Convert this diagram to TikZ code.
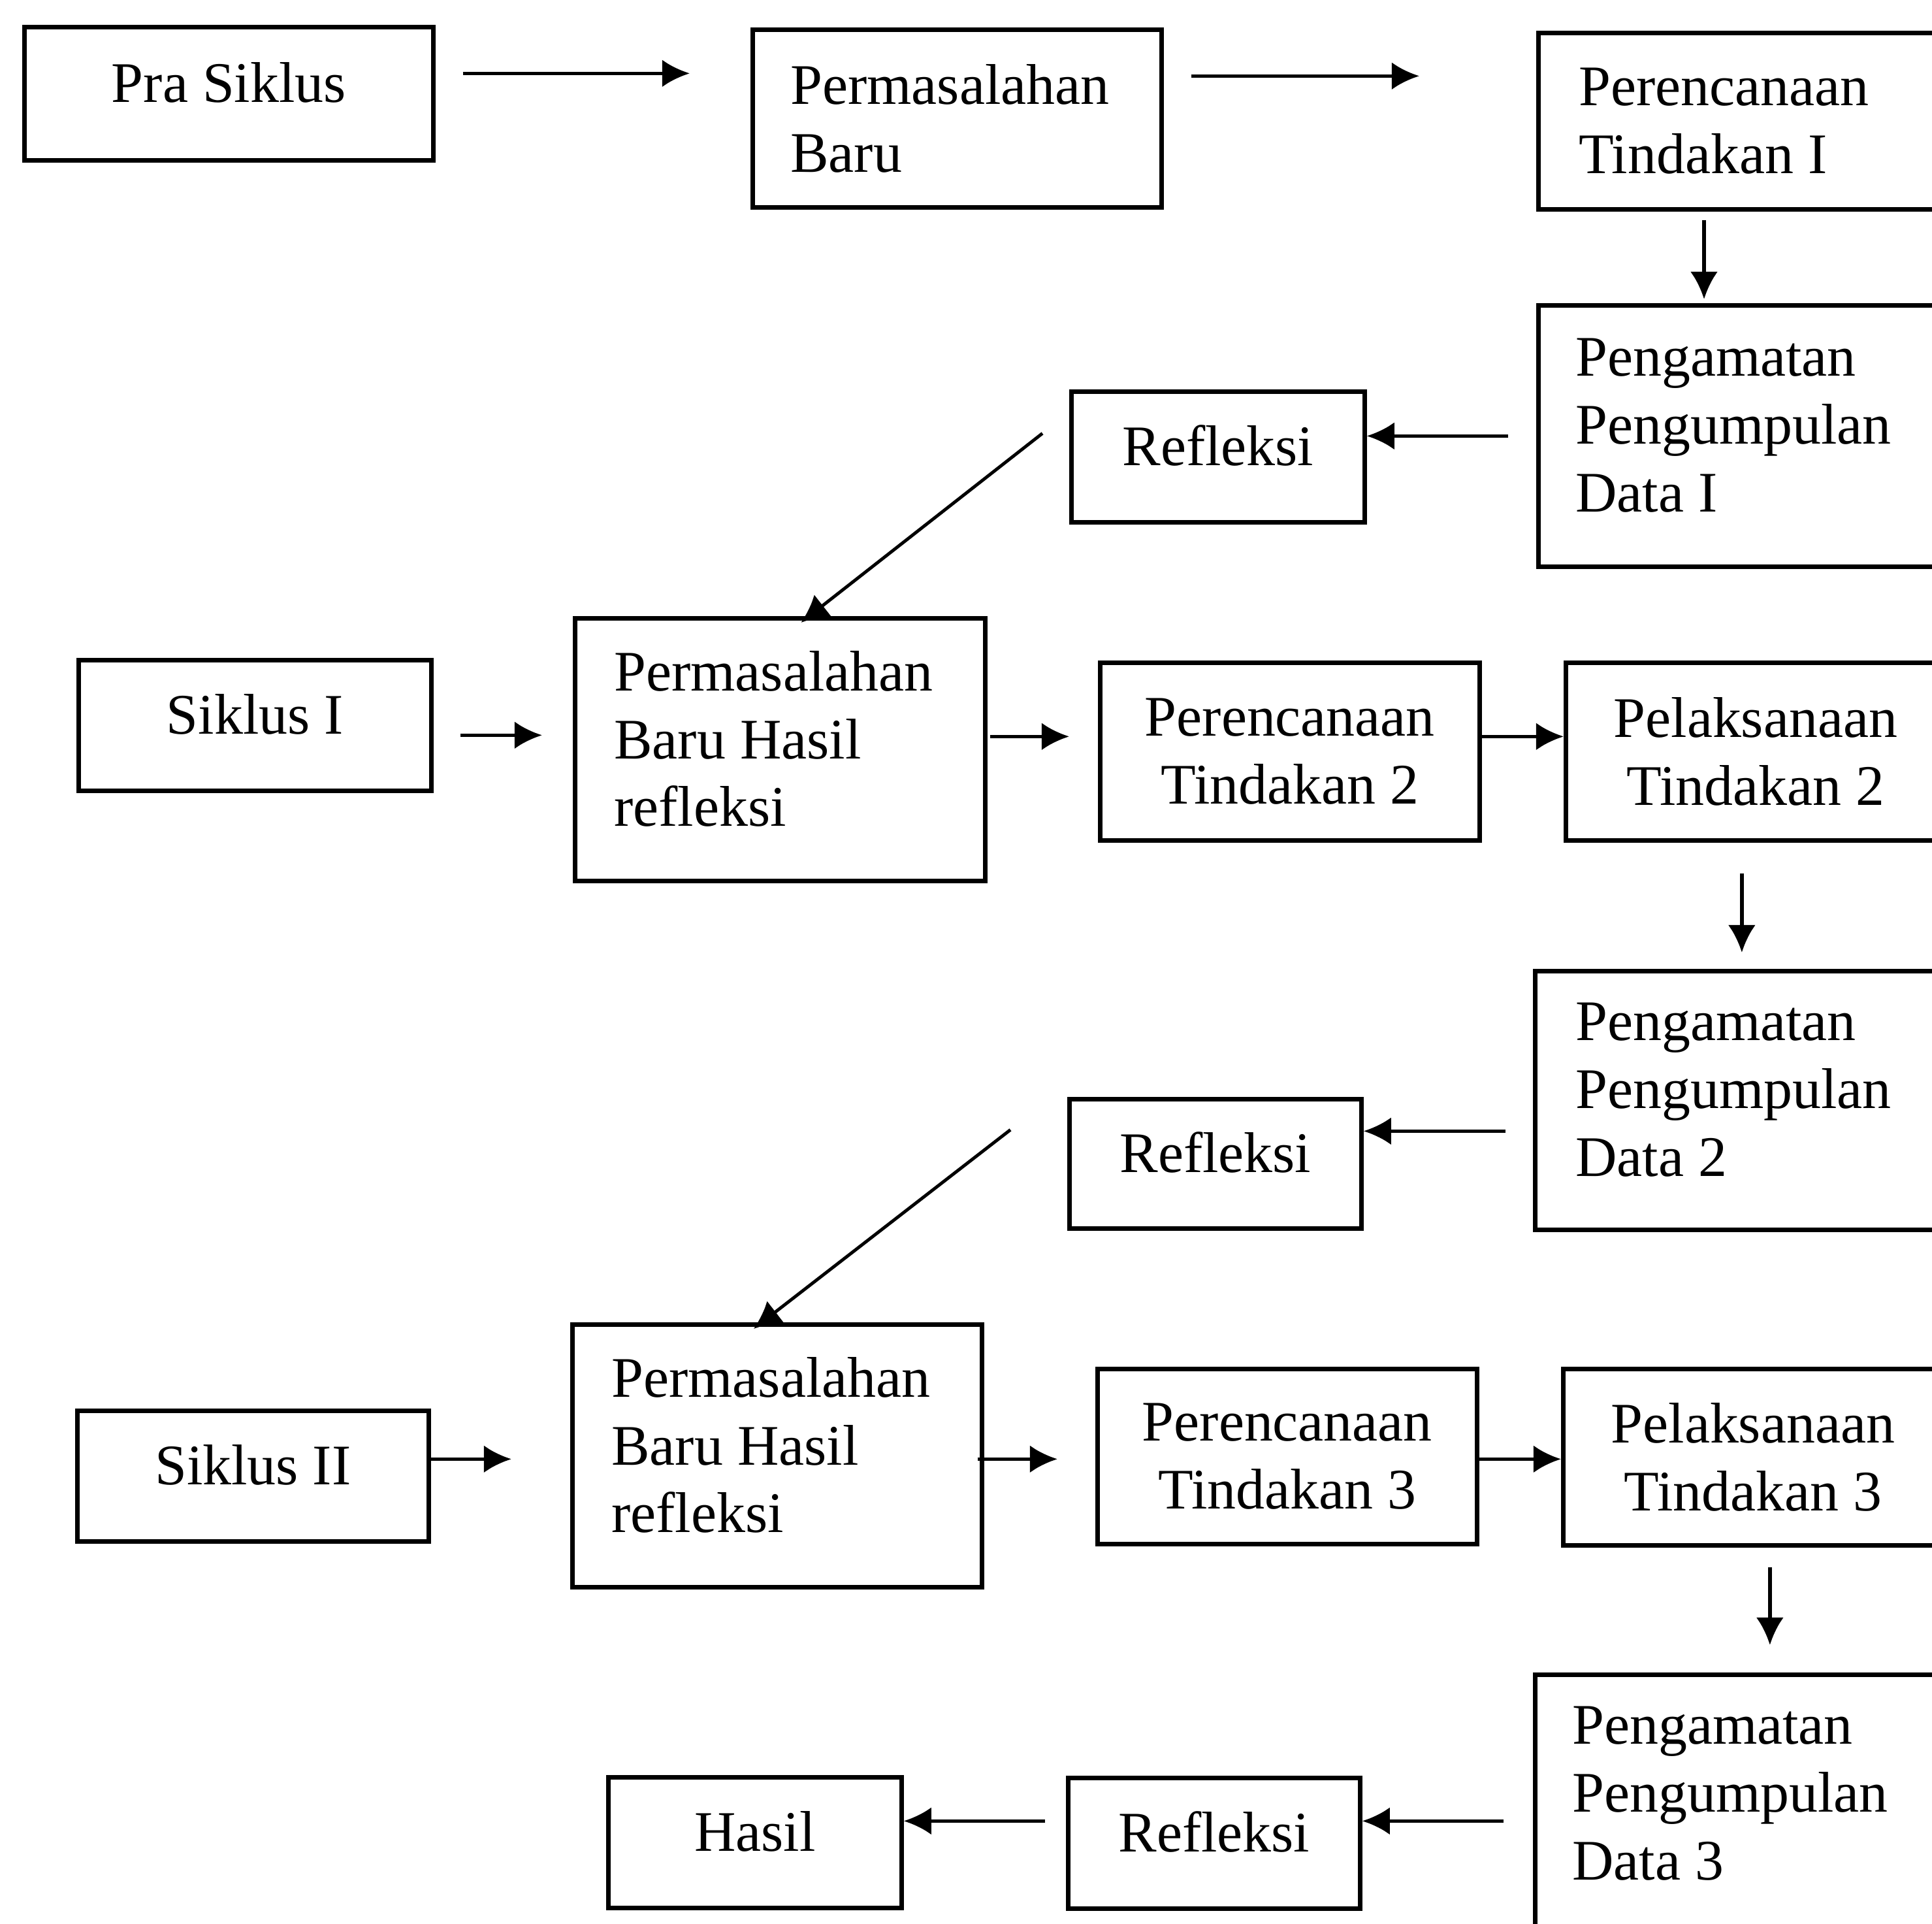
\documentclass[tikz,border=0pt]{standalone}
\usepackage{fontspec}
\setmainfont{Liberation Serif}
\usetikzlibrary{arrows.meta,calc}

\begin{document}
\begin{tikzpicture}[>={Latex[length=12pt,width=12pt]},
  every node/.style={font=\fontsize{25}{29.5}\selectfont},
  box/.style={draw,line width=1.9pt,anchor=north west,inner sep=0pt},
  lbox/.style={box,align=flush left},
  cbox/.style={box,align=flush center},
  lift/.style={text depth=10pt},
  liftthree/.style={text depth=68.5pt},
  arr/.style={->,line width=1.6pt}]
\useasboundingbox (0,0) rectangle (29.58,-29.45);
\fill [white] (0,0) rectangle (29.58,-29.45);
\clip (0,0) rectangle (29.58,-29.45);
\node [box,lift,minimum width=6.26cm,minimum height=2.04cm] (pra) at (0.34,-0.38) {Pra Siklus};
\node [lbox,text width=5.10cm,inner xsep=0.58cm,minimum height=2.72cm] (masalah) at (11.49,-0.42) {Permasalahan\\Baru};
\node [lbox,text width=6.2cm,inner xsep=0.62cm,minimum height=2.70cm] (rencana1) at (23.52,-0.47) {Perencanaan\\Tindakan I};
\node [lbox,liftthree,text width=6.2cm,inner xsep=0.57cm,minimum height=4.00cm] (amat1) at (23.52,-4.64) {Pengamatan\\Pengumpulan\\Data I};
\node [box,lift,minimum width=4.49cm,minimum height=2.00cm] (ref1) at (16.37,-5.96) {Refleksi};
\node [box,lift,minimum width=5.40cm,minimum height=2.00cm] (siklus1) at (1.17,-10.07) {Siklus I};
\node [lbox,liftthree,text width=5.08cm,inner xsep=0.60cm,minimum height=4.02cm] (bhasil1) at (8.77,-9.43) {Permasalahan\\Baru Hasil\\refleksi};
\node [cbox,minimum width=5.81cm,minimum height=2.72cm] (ren2) at (16.81,-10.11) {Perencanaan\\Tindakan 2};
\node [cbox,minimum width=5.81cm,minimum height=2.72cm] (lak2) at (23.94,-10.11) {Pelaksanaan\\Tindakan 2};
\node [lbox,liftthree,text width=6.2cm,inner xsep=0.62cm,minimum height=3.96cm] (amat2) at (23.47,-14.83) {Pengamatan\\Pengumpulan\\Data 2};
\node [box,lift,minimum width=4.47cm,minimum height=1.98cm] (ref2) at (16.34,-16.79) {Refleksi};
\node [box,lift,minimum width=5.38cm,minimum height=2.00cm] (siklus2) at (1.15,-21.56) {Siklus II};
\node [lbox,liftthree,text width=5.07cm,inner xsep=0.60cm,minimum height=4.02cm] (bhasil2) at (8.73,-20.24) {Permasalahan\\Baru Hasil\\refleksi};
\node [cbox,minimum width=5.81cm,minimum height=2.68cm] (ren3) at (16.77,-20.92) {Perencanaan\\Tindakan 3};
\node [cbox,minimum width=5.81cm,minimum height=2.70cm] (lak3) at (23.90,-20.92) {Pelaksanaan\\Tindakan 3};
\node [lbox,liftthree,text width=6.2cm,inner xsep=0.57cm,minimum height=3.96cm] (amat3) at (23.47,-25.60) {Pengamatan\\Pengumpulan\\Data 3};
\node [box,lift,minimum width=4.47cm,minimum height=2.00cm] (ref3) at (16.32,-27.18) {Refleksi};
\node [box,lift,minimum width=4.49cm,minimum height=2.00cm] (hasil) at (9.28,-27.17) {Hasil};
\coordinate (d1) at ($(ref1.west)+(-0.41,0.36)$);
\coordinate (d2) at ($(ref2.west)+(-0.87,0.52)$);
\draw [arr] ($(pra.east)+(0.42,0.31)$) -- ($(pra.east-|masalah.west)+(-0.93,0.31)$);
\draw [arr] ($(masalah.east)+(0.42,0.65)$) -- ($(masalah.east-|rencana1.west)+(-1.79,0.65)$);
\draw [arr] ($(rencana1.south west)+(2.57,-0.13)$) -- ($(amat1.north west)+(2.57,0.06)$);
\draw [arr] ($(amat1.west)+(-0.43,0)$) -- (amat1.west-|ref1.east);
\draw [arr,line width=1.4pt] (d1) -- ($(bhasil1.north)+(0.32,-0.1)$);
\draw [arr] ($(siklus1.east)+(0.41,-0.15)$) -- ($(siklus1.east-|bhasil1.west)+(-0.47,-0.15)$);
\draw [arr] ($(bhasil1.east)+(0.04,0.20)$) -- ($(bhasil1.east-|ren2.west)+(-0.44,0.20)$);
\draw [arr] ($(ren2.east)+(0,0.23)$) -- ($(ren2.east-|lak2.west)+(0,0.23)$);
\draw [arr] ($(lak2.south)+(-0.21,-0.47)$) -- ($(lak2.south|-amat2.north)+(-0.21,0.25)$);
\draw [arr] ($(amat2.west)+(-0.42,-0.47)$) -- ($(amat2.west-|ref2.east)+(0,-0.47)$);
\draw [arr,line width=1.4pt] (d2) -- ($(bhasil2.north)+(-0.36,-0.1)$);
\draw [arr] ($(siklus2.east)+(0,0.26)$) -- ($(siklus2.east-|bhasil2.west)+(-0.90,0.26)$);
\draw [arr] ($(bhasil2.east)+(-0.10,-0.05)$) -- ($(bhasil2.east-|ren3.west)+(-0.58,-0.05)$);
\draw [arr] ($(ren3.east)+(0,-0.04)$) -- ($(ren3.east-|lak3.west)+(0,-0.04)$);
\draw [arr] ($(lak3.south)+(0.26,-0.30)$) -- ($(lak3.south|-amat3.north)+(0.26,0.42)$);
\draw [arr] ($(amat3.west)+(-0.45,-0.26)$) -- ($(amat3.west-|ref3.east)+(0,-0.26)$);
\draw [arr] ($(ref3.west)+(-0.32,0.34)$) -- ($(ref3.west-|hasil.east)+(0,0.34)$);
\end{tikzpicture}
\end{document}
